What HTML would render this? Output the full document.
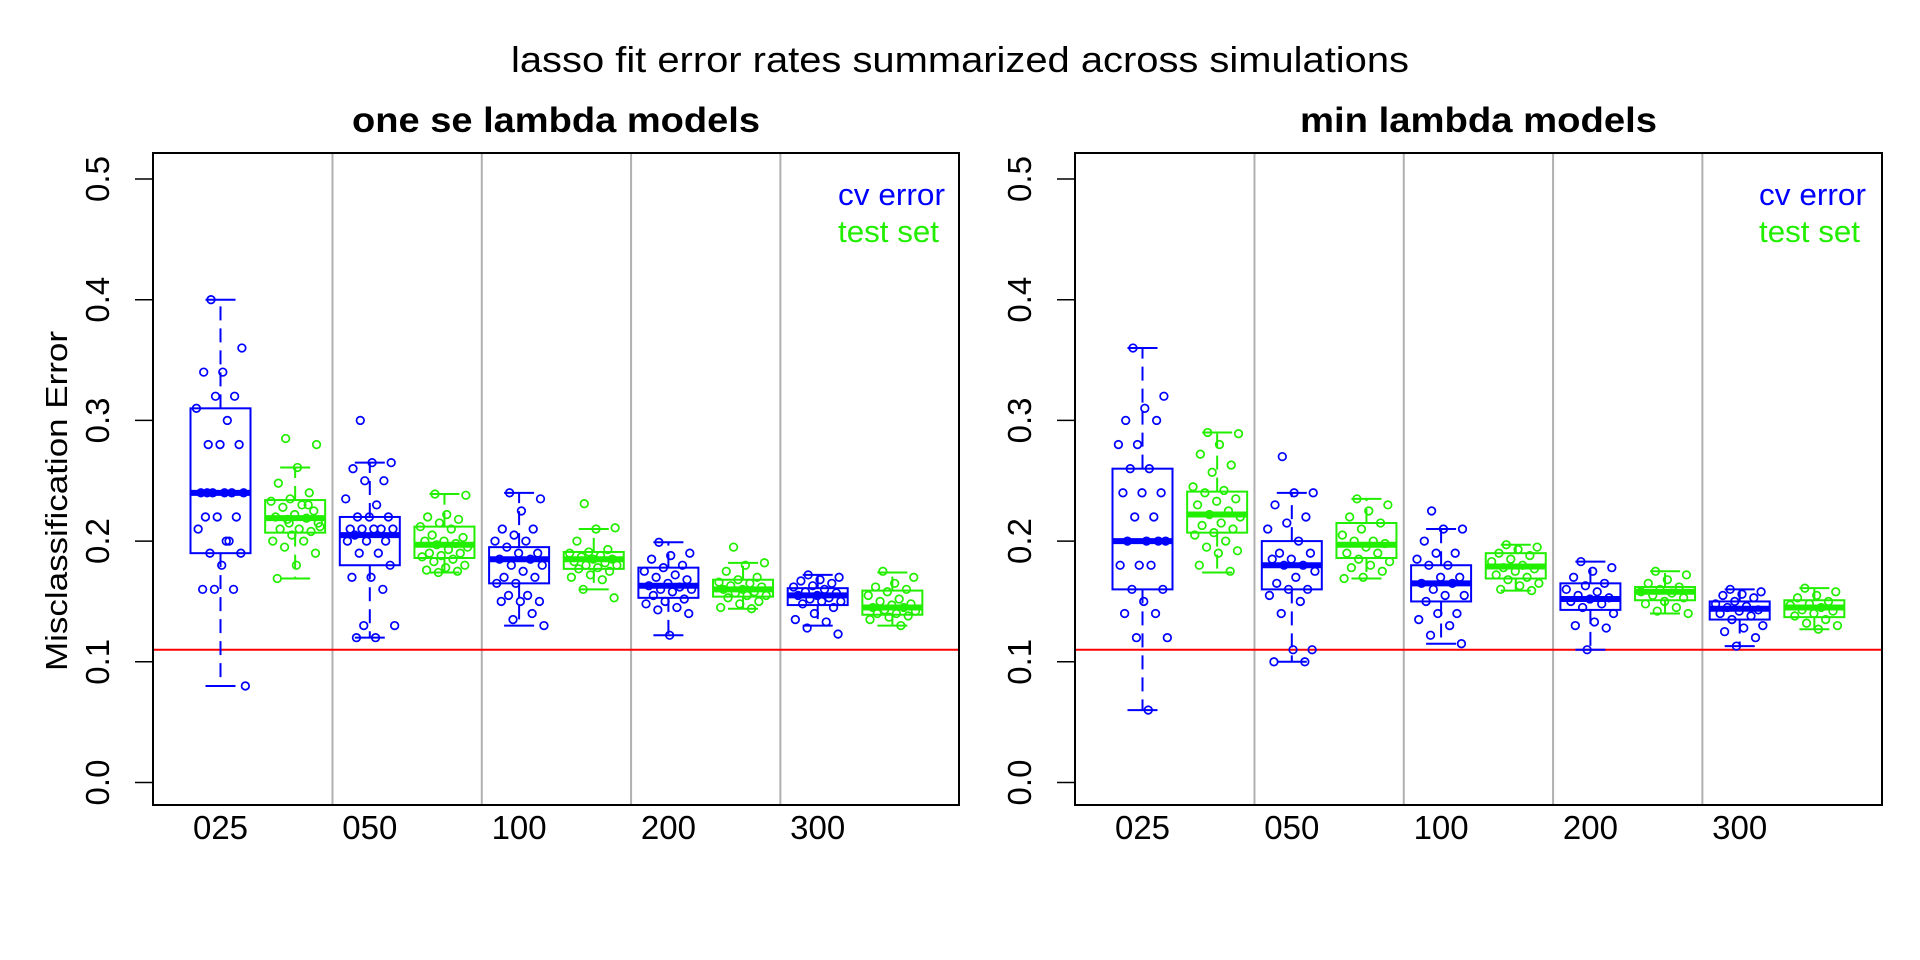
<!DOCTYPE html>
<html><head><meta charset="utf-8"><style>
html,body{margin:0;padding:0;background:#fff;}
svg{display:block;font-family:"Liberation Sans",sans-serif;}
</style></head><body>
<svg id="chart" width="1920" height="960" viewBox="0 0 1920 960" xmlns="http://www.w3.org/2000/svg">
<rect width="1920" height="960" fill="#fff"/>
<text x="960" y="72" font-size="36" text-anchor="middle" textLength="898" lengthAdjust="spacingAndGlyphs">lasso fit error rates summarized across simulations</text>
</svg>
<script>
const categories = ["025","050","100","200","300"];
const yTicks = [0.0,0.1,0.2,0.3,0.4,0.5];
const refLine = 0.11;
// stats: [whiskerLo, q1, median, q3, whiskerHi]
const seCvStats = [[0.08,0.19,0.24,0.31,0.40],[0.12,0.18,0.205,0.22,0.265],[0.13,0.165,0.185,0.195,0.24],[0.122,0.153,0.163,0.178,0.199],[0.13,0.147,0.155,0.161,0.172]];
const seTestStats = [[0.169,0.207,0.219,0.234,0.261],[0.174,0.186,0.197,0.212,0.239],[0.16,0.177,0.185,0.191,0.21],[0.144,0.154,0.16,0.168,0.182],[0.13,0.139,0.145,0.159,0.174]];
const minCvStats = [[0.06,0.16,0.20,0.26,0.36],[0.10,0.16,0.18,0.20,0.24],[0.115,0.15,0.165,0.18,0.21],[0.11,0.143,0.152,0.165,0.183],[0.113,0.135,0.144,0.15,0.16]];
const minTestStats = [[0.174,0.207,0.222,0.241,0.29],[0.169,0.186,0.197,0.215,0.235],[0.159,0.169,0.179,0.19,0.197],[0.14,0.151,0.158,0.162,0.175],[0.127,0.137,0.145,0.151,0.161]];
const seCvPoints = [
 [0.40,0.36,0.34,0.34,0.32,0.32,0.31,0.30,0.28,0.28,0.28,0.24,0.24,0.24,0.24,0.24,0.22,0.22,0.22,0.21,0.20,0.19,0.19,0.18,0.16,0.16,0.16,0.08,0.20,0.24],
 [0.30,0.265,0.265,0.26,0.25,0.25,0.235,0.23,0.22,0.22,0.22,0.21,0.21,0.21,0.21,0.21,0.205,0.2,0.2,0.2,0.19,0.19,0.18,0.17,0.17,0.16,0.13,0.13,0.12,0.12],
 [0.24,0.235,0.225,0.21,0.21,0.205,0.2,0.2,0.195,0.19,0.19,0.185,0.185,0.18,0.18,0.175,0.17,0.17,0.165,0.165,0.155,0.155,0.15,0.15,0.15,0.14,0.135,0.13],
 [0.199,0.19,0.188,0.185,0.18,0.178,0.175,0.172,0.17,0.168,0.165,0.163,0.162,0.16,0.16,0.158,0.155,0.152,0.15,0.148,0.145,0.143,0.14,0.122],
 [0.172,0.17,0.168,0.167,0.165,0.163,0.162,0.16,0.158,0.157,0.155,0.155,0.153,0.152,0.15,0.15,0.148,0.145,0.14,0.135,0.133,0.128,0.123]];
const seTestPoints = [
 [0.285,0.28,0.261,0.248,0.24,0.235,0.233,0.23,0.228,0.225,0.222,0.22,0.219,0.218,0.215,0.21,0.21,0.208,0.205,0.2,0.2,0.195,0.19,0.18,0.169,0.23,0.215,0.212],
 [0.239,0.238,0.222,0.22,0.218,0.215,0.212,0.21,0.205,0.203,0.2,0.2,0.198,0.197,0.195,0.193,0.19,0.19,0.188,0.187,0.185,0.183,0.18,0.178,0.176,0.175,0.174],
 [0.231,0.211,0.21,0.2,0.193,0.191,0.19,0.188,0.187,0.185,0.185,0.183,0.182,0.18,0.18,0.178,0.177,0.175,0.172,0.17,0.168,0.16,0.153],
 [0.195,0.182,0.18,0.175,0.17,0.168,0.166,0.165,0.163,0.162,0.16,0.16,0.158,0.157,0.155,0.155,0.153,0.15,0.148,0.145,0.144],
 [0.175,0.17,0.165,0.162,0.16,0.158,0.155,0.152,0.15,0.148,0.147,0.145,0.145,0.143,0.142,0.14,0.14,0.138,0.137,0.135,0.13]];
const minCvPoints = [
 [0.36,0.32,0.31,0.30,0.30,0.28,0.28,0.26,0.26,0.24,0.24,0.24,0.22,0.22,0.20,0.20,0.20,0.20,0.18,0.18,0.18,0.16,0.16,0.15,0.14,0.14,0.12,0.12,0.06],
 [0.27,0.24,0.24,0.23,0.22,0.215,0.21,0.2,0.19,0.19,0.185,0.185,0.18,0.18,0.175,0.17,0.165,0.16,0.16,0.155,0.15,0.14,0.11,0.11,0.10,0.10],
 [0.225,0.21,0.21,0.2,0.19,0.19,0.185,0.18,0.18,0.17,0.17,0.165,0.165,0.16,0.155,0.155,0.15,0.14,0.14,0.135,0.13,0.122,0.115],
 [0.183,0.178,0.175,0.17,0.165,0.163,0.16,0.158,0.155,0.153,0.152,0.15,0.148,0.145,0.14,0.133,0.13,0.128,0.11],
 [0.16,0.158,0.156,0.155,0.153,0.15,0.148,0.146,0.145,0.143,0.142,0.14,0.138,0.135,0.13,0.128,0.125,0.12,0.113]];
const minTestPoints = [
 [0.29,0.289,0.28,0.272,0.263,0.257,0.245,0.242,0.24,0.235,0.233,0.23,0.225,0.222,0.22,0.215,0.213,0.21,0.207,0.205,0.2,0.195,0.192,0.19,0.18,0.175],
 [0.235,0.23,0.225,0.22,0.215,0.21,0.205,0.2,0.2,0.198,0.195,0.19,0.19,0.185,0.183,0.18,0.178,0.175,0.17,0.169],
 [0.197,0.195,0.193,0.19,0.188,0.185,0.183,0.18,0.178,0.177,0.175,0.172,0.17,0.168,0.165,0.163,0.16,0.159],
 [0.175,0.172,0.168,0.165,0.162,0.16,0.158,0.157,0.155,0.153,0.15,0.148,0.145,0.142,0.14],
 [0.161,0.158,0.155,0.153,0.15,0.148,0.147,0.145,0.143,0.142,0.14,0.138,0.135,0.132,0.13,0.127]];

const NS = "http://www.w3.org/2000/svg";
const svg = document.getElementById("chart");
const BLUE = "#0000ff", GREEN = "#22ee00";
function mk(tag, attrs, parent) {
  const e = document.createElementNS(NS, tag);
  for (const k in attrs) e.setAttribute(k, attrs[k]);
  (parent || svg).appendChild(e);
  return e;
}
function yScale(v) { return 782.5 - v * 1207; }

function panel(left, right, title, titleLen, legendX, cvStats, testStats, cvPts, testPts, key) {
  const top = 153, bottom = 805;
  const slot = 74.65;
  const firstX = left + 67.5;
  const xPos = i => firstX + i * slot;
  const g = mk("g", {});
  
  
  const t = mk("text", {x: (left + right) / 2, y: 132, "font-size": 35, "font-weight": "bold", "text-anchor": "middle", textLength: titleLen, lengthAdjust: "spacingAndGlyphs"}, g);
  t.textContent = title;
  
  
  for (let c = 1; c < categories.length; c++) {
    const gx = xPos(2 * c - 0.5);
    const gl = mk("line", {x1: gx, x2: gx, y1: top, y2: bottom, stroke: "#b0b0b0", "stroke-width": 2}, g);
    
    
  }
  const rl = mk("line", {x1: left, x2: right, y1: yScale(refLine), y2: yScale(refLine), stroke: "#ff0000", "stroke-width": 2}, g);
  
  
  yTicks.forEach(v => {
    const y = yScale(v);
    const tk = mk("line", {x1: left - 18, x2: left, y1: y, y2: y, stroke: "#000", "stroke-width": 1.5}, g);
    
    
    const lx = left - 44;
    const lb = mk("text", {x: lx, y: y, "font-size": 33, "text-anchor": "middle", transform: `rotate(-90 ${lx} ${y})`}, g);
    lb.textContent = v.toFixed(1);
    
    
  });
  categories.forEach((c, i) => {
    const lb = mk("text", {x: xPos(2 * i), y: 839, "font-size": 33, "text-anchor": "middle"}, g);
    lb.textContent = c;
    
    
  });
  function drawBox(stats, pts, cx, color, nm) {
    const bw = 60, cap = 30;
    const [lo, q1, md, q3, hi] = stats;
    const bg = mk("g", {}, g);
    
    
    mk("line", {x1: cx, x2: cx, y1: yScale(q3), y2: yScale(hi), stroke: color, "stroke-width": 2, "stroke-dasharray": "14,8"}, bg);
    mk("line", {x1: cx, x2: cx, y1: yScale(q1), y2: yScale(lo), stroke: color, "stroke-width": 2, "stroke-dasharray": "14,8"}, bg);
    mk("line", {x1: cx - cap / 2, x2: cx + cap / 2, y1: yScale(hi), y2: yScale(hi), stroke: color, "stroke-width": 2}, bg);
    mk("line", {x1: cx - cap / 2, x2: cx + cap / 2, y1: yScale(lo), y2: yScale(lo), stroke: color, "stroke-width": 2}, bg);
    mk("rect", {x: cx - bw / 2, y: yScale(q3), width: bw, height: yScale(q1) - yScale(q3), fill: "none", stroke: color, "stroke-width": 2}, bg);
    mk("line", {x1: cx - bw / 2, x2: cx + bw / 2, y1: yScale(md), y2: yScale(md), stroke: color, "stroke-width": 6}, bg);
    pts.forEach((v, j) => {
      const frac = ((j * 0.618034 + 0.31) % 1) - 0.5;
      const c = mk("circle", {cx: cx + frac * 50, cy: yScale(v), r: 3.8, fill: "none", stroke: color, "stroke-width": 1.7}, bg);
      
      
    });
  }
  categories.forEach((c, i) => {
    drawBox(cvStats[i], cvPts[i], xPos(2 * i), BLUE, 'cv-box-' + c);
    drawBox(testStats[i], testPts[i], xPos(2 * i + 1), GREEN, 'test-box-' + c);
  });
  const fr = mk("rect", {x: left, y: top, width: right - left, height: bottom - top, fill: "none", stroke: "#000", "stroke-width": 2}, g);
  
  
  const l1 = mk("text", {x: legendX, y: 205, "font-size": 31, "text-anchor": "end", fill: BLUE, textLength: 107, lengthAdjust: "spacingAndGlyphs"}, g);
  l1.textContent = "cv error";
  
  
  const l2 = mk("text", {x: legendX - 6, y: 242, "font-size": 31, "text-anchor": "end", fill: GREEN, textLength: 101, lengthAdjust: "spacingAndGlyphs"}, g);
  l2.textContent = "test set";
  
  
}
panel(153, 959, "one se lambda models", 408, 945, seCvStats, seTestStats, seCvPoints, seTestPoints, 'one-se');
panel(1075, 1882, "min lambda models", 357, 1866, minCvStats, minTestStats, minCvPoints, minTestPoints, 'min');
const at = mk("text", {x: 67, y: 501, "font-size": 31, "text-anchor": "middle", transform: "rotate(-90 67 501)", textLength: 340, lengthAdjust: "spacingAndGlyphs"});
at.textContent = "Misclassification Error";


</script>
</body></html>
